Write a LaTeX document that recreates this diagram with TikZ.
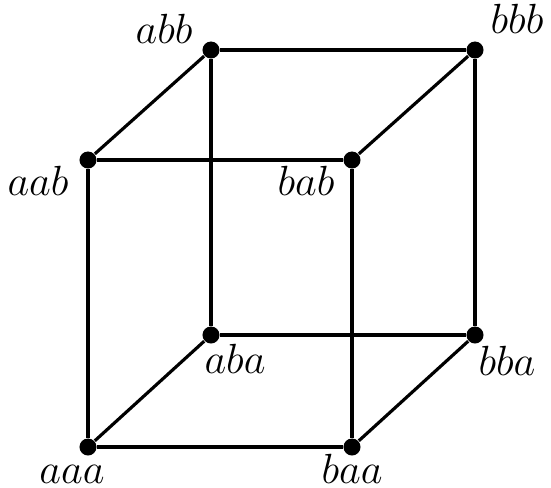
\documentclass[tikz,border=0pt]{standalone}
\usepackage{amsmath}
\usepackage{tikz}
\tikzstyle{vertex} = [circle, fill=black, inner sep=0pt, minimum size=0.17cm]
\tikzstyle{edge} = [line width=0.9pt]
\tikzstyle{vlabel} = [inner sep=0pt, anchor=base]

\begin{document}
\begin{tikzpicture}[x=0.01cm,y=0.01cm,every node/.style={font=\fontsize{11.5}{14}\selectfont}]
    \useasboundingbox (0,0) rectangle (551,487);
    \foreach \n/\x/\y in {aaa/88/40,baa/352/40,aba/211/152,bba/475/152,
                          aab/88/327,bab/352/327,abb/211/437,bbb/475/437}{
        \node[vertex] (\n) at (\x,\y) {};
    }
    \foreach \a/\b in {aaa/baa,aaa/aab,aaa/aba,baa/bab,baa/bba,aba/bba,
                       aba/abb,bba/bbb,aab/bab,aab/abb,bab/bbb,abb/bbb}{
        \draw[edge] (\a) -- (\b);
    }
    \foreach \n/\dx/\dy in {aaa/-16/-36,baa/0/-36,aba/24/-38,bba/32/-40,
                            aab/-50/-35,bab/-46/-35,abb/-47/7,bbb/42/17}{
        \node[vlabel] (l\n) at ([shift={(\dx,\dy)}]\n) {\(\n\)};
    }
\end{tikzpicture}
\end{document}
